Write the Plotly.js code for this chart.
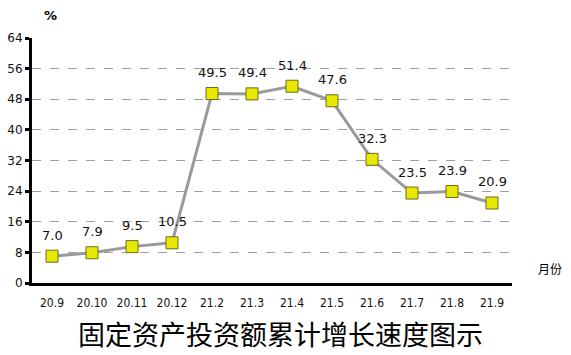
<!DOCTYPE html>
<html><head><meta charset="utf-8">
<script src="https://cdn.plot.ly/plotly-3.0.1.min.js"></script>
<style>body{margin:0;background:#fff}#c{width:571px;height:355px}</style>
</head><body><div id="c"></div>
<script>
const months = ["20.9","20.10","20.11","20.12","21.2","21.3","21.4","21.5","21.6","21.7","21.8","21.9"];
const growth = [7.0, 7.9, 9.5, 10.5, 49.5, 49.4, 51.4, 47.6, 32.3, 23.5, 23.9, 20.9];
const yTicks = [0, 8, 16, 24, 32, 40, 48, 56, 64];

const trace = {
  x: months, y: growth, type: 'scatter', mode: 'lines+markers',
  line: {color: '#9a9a9a', width: 3},
  marker: {symbol: 'square', size: 12, color: '#e8e800', line: {color: '#6b6b20', width: 1}},
  cliponaxis: false, hoverinfo: 'none'
};

const valueLabels = growth.map((v, i) => ({
  x: i, y: v, xref: 'x', yref: 'y', text: v.toFixed(1),
  showarrow: false, yanchor: 'middle', xanchor: 'center', yshift: 21,
  font: {family: 'DejaVu Sans', size: 13, color: '#111'}
}));

const layout = {
  width: 571, height: 355,
  margin: {l: 32, r: 59, t: 38, b: 72},
  paper_bgcolor: '#fff', plot_bgcolor: '#fff',
  showlegend: false,
  font: {family: 'DejaVu Sans', size: 12, color: '#111'},
  xaxis: {
    type: 'category', range: [-0.5, 11.5],
    showline: true, linecolor: '#000', linewidth: 3,
    showgrid: false, ticks: '', zeroline: false,
    tickfont: {family: 'DejaVu Sans Condensed', size: 12, color: '#111'},
    ticklabelstandoff: 7
  },
  yaxis: {
    range: [0, 64], tickvals: yTicks, ticktext: yTicks.map(String),
    showline: true, linecolor: '#000', linewidth: 3,
    ticks: 'outside', ticklen: 4, tickwidth: 3, tickcolor: '#000',
    showgrid: true, gridcolor: '#a0a0a0', griddash: 'dash', gridwidth: 1,
    zeroline: false,
    tickfont: {family: 'DejaVu Sans', size: 12, color: '#111'}
  },
  annotations: valueLabels.concat([
    {text: '<b>%</b>', xref: 'paper', yref: 'paper', x: 0.0375, y: 1.0, yshift: 23, yanchor: 'middle', xanchor: 'center', showarrow: false,
     font: {family: 'DejaVu Sans', size: 13, color: '#000'}},
    {text: '月份', xref: 'paper', yref: 'paper', x: 1.0, y: 0.06, xanchor: 'left', yanchor: 'middle', xshift: 24, showarrow: false,
     font: {family: 'Noto Sans CJK SC', size: 12, color: '#000'}},
    {text: '固定资产投资额累计增长速度图示', xref: 'paper', yref: 'paper', x: 0.5, xshift: 8, y: 0, yshift: -50, yanchor: 'middle', showarrow: false,
     font: {family: 'Noto Sans CJK SC', size: 27, color: '#000'}}
  ])
};
Plotly.newPlot('c', [trace], layout, {displayModeBar: false, staticPlot: true});
</script></body></html>
